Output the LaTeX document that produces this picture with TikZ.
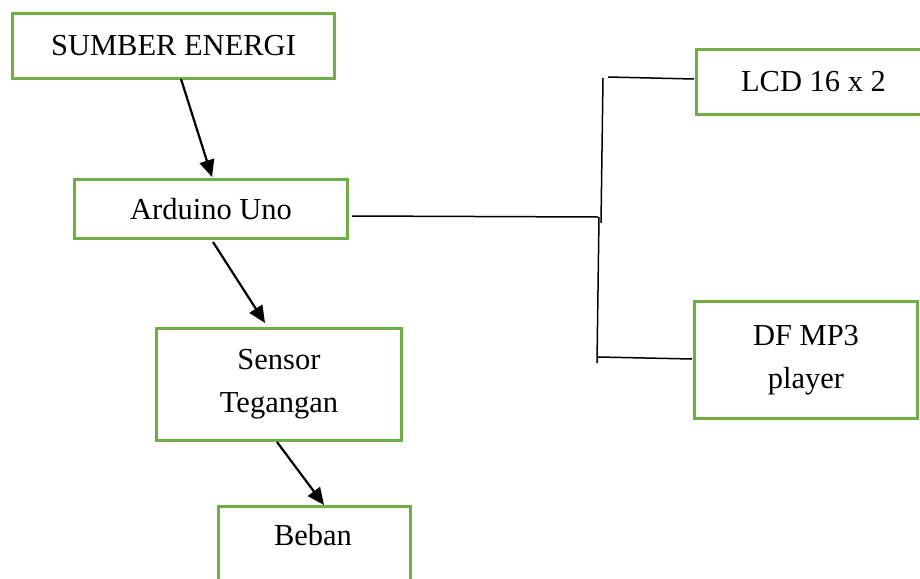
\documentclass[tikz,border=0pt]{standalone}
\usepackage{fontspec}
\setmainfont{Liberation Serif}
\usetikzlibrary{arrows.meta}
\definecolor{boxgreen}{HTML}{70AD47}
\begin{document}
\begin{tikzpicture}[x=1pt,y=-1pt,
  box/.style={draw=boxgreen, line width=3pt, inner sep=0pt, anchor=north west,
              font=\fontsize{30.5}{43}\selectfont, align=center},
  lbl/.style={font=\fontsize{30.5}{43}\selectfont, inner sep=0pt},
  conn/.style={line width=1.5pt, black},
  arr/.style={line width=2.2pt, black, -{Triangle[length=17pt,width=15pt]}}]
\useasboundingbox (0,0) rectangle (920,578);
\clip (0,0) rectangle (920,578);
% boxes
\node[box, minimum width=322pt, minimum height=65pt] (sumber) at (11,12) {SUMBER ENERGI};
\node[box, minimum width=273pt, minimum height=59pt] (arduino) at (73,178) {Arduino Uno};
\node[box, minimum width=245pt, minimum height=112pt] (sensor) at (155,327) {Sensor\\Tegangan};
\node[box, minimum width=192pt, minimum height=95pt] (beban) at (217,505) {};
\node[lbl] (bebantext) at (313,535) {Beban};
\node[box, minimum width=234pt, minimum height=65pt] (lcd) at (695,48) {LCD 16 x 2};
\node[box, minimum width=223pt, minimum height=117pt] (dfmp3) at (693,300) {DF MP3\\player};
% connector end points
\coordinate (a1s) at (181,79);  \coordinate (a1e) at (212,177);
\coordinate (a2s) at (213,242); \coordinate (a2e) at (265,323);
\coordinate (a3s) at (277,442); \coordinate (a3e) at (324,505);
\coordinate (h1s) at (352,216); \coordinate (h1e) at (598,217);
\coordinate (v1t) at (603,78);  \coordinate (v1b) at (601,223);
\coordinate (h2s) at (608,77);  \coordinate (h2e) at (694,79);
\coordinate (v2t) at (599,217); \coordinate (v2b) at (597,363);
\coordinate (h3s) at (598,357); \coordinate (h3e) at (692,359);
% arrows
\draw[arr] (a1s) -- (a1e);
\draw[arr] (a2s) -- (a2e);
\draw[arr] (a3s) -- (a3e);
% bus lines
\draw[conn] (h1s) -- (h1e);
\draw[conn] (v1t) -- (v1b);
\draw[conn] (h2s) -- (h2e);
\draw[conn] (v2t) -- (v2b);
\draw[conn] (h3s) -- (h3e);
\end{tikzpicture}
\end{document}
